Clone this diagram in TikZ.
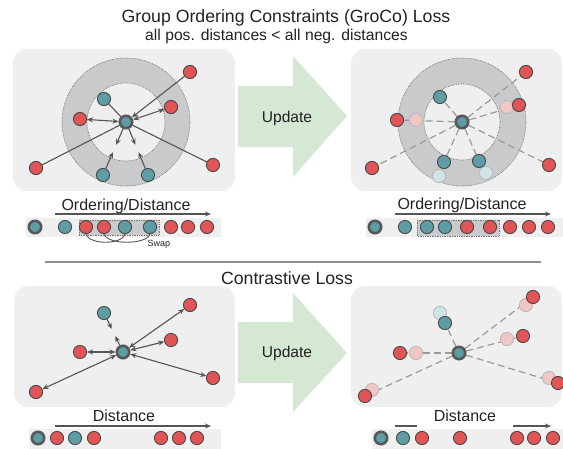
\documentclass[tikz,border=0pt]{standalone}
\usepackage{fontspec}
\setmainfont{Liberation Sans}
\usetikzlibrary{arrows.meta,calc}

\pgfdeclarelayer{panels}
\pgfdeclarelayer{links}
\pgfdeclarelayer{ghosts}
\pgfsetlayers{panels,links,ghosts,main}

\definecolor{panelgray}{HTML}{EFEFEF}
\definecolor{ringgray}{HTML}{C9CACC}
\definecolor{tealc}{HTML}{5E9CA6}
\definecolor{redc}{HTML}{E05555}
\definecolor{rimc}{HTML}{444444}
\definecolor{linkc}{HTML}{555555}
\definecolor{dashc}{HTML}{9A9A9A}
\definecolor{ghostred}{HTML}{F3C6C6}
\definecolor{ghostteal}{HTML}{D0E4E7}
\definecolor{updgreen}{HTML}{D5E8D4}
\definecolor{textc}{HTML}{222222}

\tikzset{
  >={Stealth[length=6pt,width=5pt]},
  dotbase/.style={circle, inner sep=0pt, minimum size=13.2pt, draw=rimc, line width=0.8pt},
  posdot/.style={dotbase, fill=tealc},
  negdot/.style={dotbase, fill=redc},
  ancdot/.style={circle, inner sep=0pt, minimum size=12.4pt, draw=rimc!90, line width=2.6pt, fill=tealc},
  ghostneg/.style={dotbase, fill=ghostred, draw=black!28},
  ghostpos/.style={dotbase, fill=ghostteal, draw=black!28},
  link/.style={draw=linkc, line width=1.1pt},
  pulllink/.style={link, ->, shorten >=4pt},
  dlink/.style={draw=dashc, line width=1.2pt, dash pattern=on 7pt off 4pt},
  panel/.style={fill=panelgray, rounded corners=14pt},
  rankbar/.style={fill=panelgray},
  ringline/.style={draw=black!55, densely dotted, line width=0.7pt},
  hlbox/.style={fill=ringgray, draw=black!55, densely dotted, line width=0.7pt},
  axisline/.style={draw=linkc, line width=1.4pt},
  updarrow/.style={fill=updgreen},
  lbl/.style={font=\fontsize{16}{19}\selectfont, text=textc, inner sep=0pt, anchor=base},
  updlbl/.style={font=\fontsize{15.6}{19}\selectfont, text=textc, inner sep=0pt, anchor=base},
  biglbl/.style={font=\fontsize{17.7}{21}\selectfont, text=textc, inner sep=0pt, anchor=base},
}

\begin{document}
\begin{tikzpicture}[x=1pt, y=-1pt]
\useasboundingbox (0,0) rectangle (563,449);

% ---------- titles ----------
\node[biglbl] (title) at (286,23) {Group Ordering Constraints (GroCo) Loss};
\node[lbl, font=\fontsize{15.7}{19}\selectfont] (subtitle) at (276.5,41) {all pos. distances < all neg. distances};
\node[biglbl] (ctitle) at (287,285) {Contrastive Loss};

% separator
\coordinate (sepL) at (45,262);
\coordinate (sepR) at (541,262);
\draw[draw=black!45, line width=1.3pt] (sepL) -- (sepR);

% ---------- backgrounds ----------
\begin{pgfonlayer}{panels}
  \fill[panel] (13,49) rectangle (235,191);
  \fill[panel] (351,49) rectangle (562,191);
  \fill[panel] (14,286) rectangle (235,407);
  \fill[panel] (351,286) rectangle (562,407);
  % margin rings
  \fill[ringgray, even odd rule] (126,122) circle[radius=64pt] (126,122) circle[radius=39pt];
  \draw[ringline] (126,122) circle[radius=64pt] (126,122) circle[radius=39pt];
  \fill[ringgray, even odd rule] (462,122) circle[radius=64pt] (462,122) circle[radius=38pt];
  \draw[ringline] (462,122) circle[radius=64pt] (462,122) circle[radius=38pt];
  % ranking bars
  \fill[rankbar] (26,218) rectangle (221,237);
  \fill[rankbar] (366,218) rectangle (563,237);
  \fill[rankbar] (29,429) rectangle (221,449);
  \fill[rankbar] (372,429) rectangle (563,449);
  \draw[hlbox] (79,220) rectangle (159,235);
  \draw[hlbox] (417,220) rectangle (499,236);
\end{pgfonlayer}

% ---------- update arrows ----------
\fill[updarrow] (238,86) -- (293,86) -- (293,56) -- (347,116) -- (293,177) -- (293,147) -- (238,147) -- cycle;
\node[updlbl] (upd1) at (287,123) {Update};
\fill[updarrow] (238,322) -- (293,322) -- (293,293) -- (347,353) -- (293,412) -- (293,383) -- (238,383) -- cycle;
\node[updlbl] (upd2) at (287,358) {Update};

% ---------- GroCo: before update ----------
\node[ancdot] (a) at (126,122) {};
\node[posdot] (ap1) at (104,99) {};
\node[posdot] (ap2) at (103,175) {};
\node[posdot] (ap3) at (148,175) {};
\node[negdot] (an1) at (80,119) {};
\node[negdot] (an2) at (171,107) {};
\node[negdot] (an3) at (190,72) {};
\node[negdot] (an4) at (36,168) {};
\node[negdot] (an5) at (213,165) {};
\coordinate (am2) at ($(a)!0.5!(ap2)$);
\coordinate (am3) at ($(a)!0.5!(ap3)$);
\begin{pgfonlayer}{links}
  \draw[link,<->] (a) -- (an1);
  \draw[link,<->] (a) -- (an2);
  \draw[link,->] (an3) -- (a);
  \draw[link] (a) -- (an4);
  \draw[link] (a) -- (an5);
  \draw[link] (a) -- (ap1);
  \draw[pulllink] (a) -- (am2);
  \draw[pulllink] (ap2) -- (am2);
  \draw[pulllink] (a) -- (am3);
  \draw[pulllink] (ap3) -- (am3);
\end{pgfonlayer}

% ---------- GroCo: after update ----------
\node[ancdot] (b) at (462,122) {};
\node[posdot] (bp1) at (440,97) {};
\node[posdot] (bp2) at (444,162) {};
\node[posdot] (bp3) at (479,161) {};
\node[negdot] (bn1) at (397,120) {};
\node[negdot] (bn2) at (519,105) {};
\node[negdot] (bn3) at (526,72) {};
\node[negdot] (bn4) at (372,168) {};
\node[negdot] (bn5) at (549,165) {};
\begin{pgfonlayer}{ghosts}
  \node[ghostpos] (bg2) at (439,176) {};
  \node[ghostpos] (bg3) at (486,173) {};
  \node[ghostneg] (bg4) at (416,120) {};
  \node[ghostneg] (bg5) at (507,107) {};
\end{pgfonlayer}
\begin{pgfonlayer}{links}
  \foreach \t in {bp1,bp2,bp3,bn1,bn2,bn3,bn4,bn5}
    \draw[dlink] (b) -- (\t);
\end{pgfonlayer}

% ---------- GroCo: rankings ----------
\node[lbl] (ord1) at (126,210.5) {Ordering/Distance};
\coordinate (ax1s) at (55,214);
\coordinate (ax1e) at (211,214);
\draw[axisline,->] (ax1s) -- (ax1e);
\node[ancdot] (r0) at (35,227) {};
\node[posdot] (r1) at (65,227) {};
\node[negdot] (r2) at (86,227) {};
\node[negdot] (r3) at (104,227) {};
\node[posdot] (r4) at (125,227) {};
\node[posdot] (r5) at (150,227) {};
\node[negdot] (r6) at (171,227) {};
\node[negdot] (r7) at (188,227) {};
\node[negdot] (r8) at (207,227) {};
\draw[link, line width=0.9pt] (r2.south) .. controls +(3,11) and +(-3,11) .. (r4.south);
\draw[link, line width=0.9pt] (r3.south) .. controls +(3,11) and +(-3,11) .. (r5.south);
\node[font=\fontsize{9}{10}\selectfont, text=textc, inner sep=0pt, anchor=base] (swap) at (159,247) {Swap};

\node[lbl] (ord2) at (462,210) {Ordering/Distance};
\coordinate (ax2s) at (395,214);
\coordinate (ax2e) at (551,214);
\draw[axisline,->] (ax2s) -- (ax2e);
\node[ancdot] (q0) at (375,227) {};
\node[posdot] (q1) at (405,227) {};
\node[posdot] (q2) at (427,227) {};
\node[posdot] (q3) at (445,227) {};
\node[negdot] (q4) at (467,227) {};
\node[negdot] (q5) at (490,227) {};
\node[negdot] (q6) at (510,227) {};
\node[negdot] (q7) at (529,227) {};
\node[negdot] (q8) at (548,227) {};

% ---------- Contrastive: before update ----------
\node[ancdot] (c) at (123,352) {};
\node[posdot] (cp1) at (104,313) {};
\node[negdot] (cn1) at (80,352) {};
\node[negdot] (cn2) at (190,305) {};
\node[negdot] (cn3) at (171,340) {};
\node[negdot] (cn4) at (213,378) {};
\node[negdot] (cn5) at (36,392) {};
\coordinate (cm1) at ($(c)!0.5!(cp1)$);
\begin{pgfonlayer}{links}
  \foreach \t in {cn1,cn2,cn3,cn4,cn5}
    \draw[link,<->] (c) -- (\t);
  \draw[pulllink] (c) -- (cm1);
  \draw[pulllink] (cp1) -- (cm1);
\end{pgfonlayer}

% ---------- Contrastive: after update ----------
\node[ancdot] (d) at (459,353) {};
\node[posdot] (dp1) at (445,323) {};
\node[negdot] (dn1) at (400,353) {};
\node[negdot] (dn2) at (533,297) {};
\node[negdot] (dn3) at (523,336) {};
\node[negdot] (dn4) at (558,383) {};
\node[negdot] (dn5) at (365,396) {};
\begin{pgfonlayer}{ghosts}
  \node[ghostpos] (dg1) at (440,313) {};
  \node[ghostneg] (dg2) at (416,353) {};
  \node[ghostneg] (dg3) at (526,305) {};
  \node[ghostneg] (dg4) at (507,339) {};
  \node[ghostneg] (dg5) at (549,378) {};
  \node[ghostneg] (dg6) at (372,390) {};
\end{pgfonlayer}
\begin{pgfonlayer}{links}
  \foreach \t in {dp1,dn1,dn2,dn3,dn4,dn5}
    \draw[dlink] (d) -- (\t);
\end{pgfonlayer}

% ---------- Contrastive: rankings ----------
\node[lbl] (dist1) at (124,421.5) {Distance};
\coordinate (ax3s) at (55,426);
\coordinate (ax3e) at (211,426);
\draw[axisline,->] (ax3s) -- (ax3e);
\node[ancdot] (s0) at (38,438) {};
\node[negdot] (s1) at (57,438) {};
\node[posdot] (s2) at (75,438) {};
\node[negdot] (s3) at (94,438) {};
\node[negdot] (s4) at (161,438) {};
\node[negdot] (s5) at (179,438) {};
\node[negdot] (s6) at (197,438) {};

% axis broken around its label
\node[lbl] (dist2) at (465,421.5) {Distance};
\coordinate (ax4s) at (395,426);
\coordinate (ax4a) at (417,426);
\coordinate (ax4b) at (513,426);
\coordinate (ax4e) at (551,426);
\draw[axisline] (ax4s) -- (ax4a);
\draw[axisline,->] (ax4b) -- (ax4e);
\node[ancdot] (t0) at (381,438) {};
\node[posdot] (t1) at (403,438) {};
\node[negdot] (t2) at (422,438) {};
\node[negdot] (t3) at (460,438) {};
\node[negdot] (t4) at (517,438) {};
\node[negdot] (t5) at (534,438) {};
\node[negdot] (t6) at (553,438) {};
\end{tikzpicture}
\end{document}
